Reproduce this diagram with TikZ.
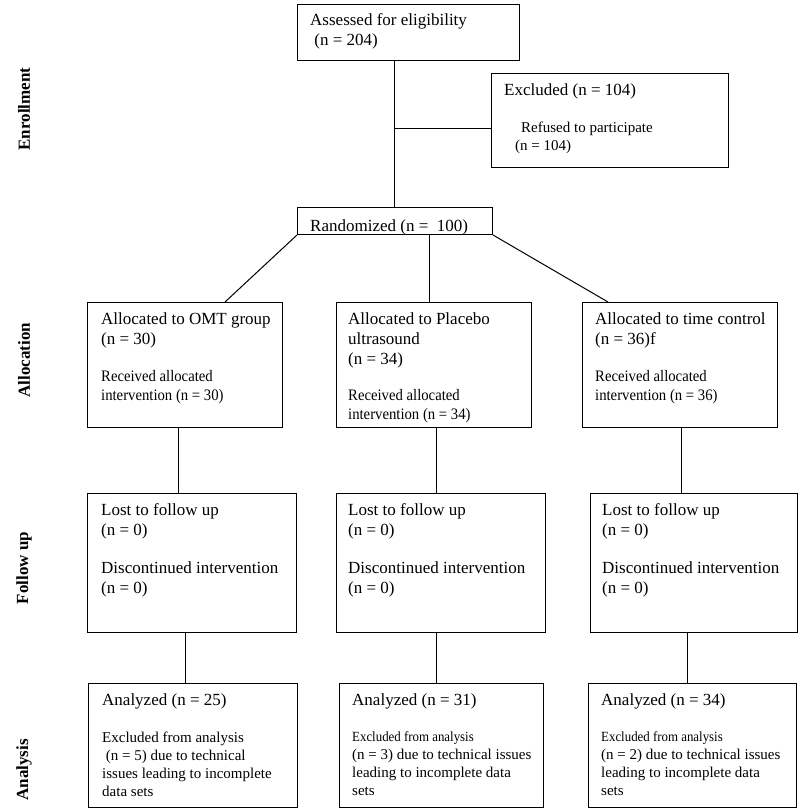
\documentclass[tikz,border=0pt]{standalone}
\usepackage{fontspec}
\setmainfont{Liberation Serif}
\newfontfamily\narrowserif[FakeStretch=0.92]{Liberation Serif}
\tikzset{
    box/.style={draw, line width=1pt, anchor=north west, inner sep=0pt},
    head/.style={anchor=north west, inner sep=0pt, align=left, font=\fontsize{17}{20}\selectfont},
    note/.style={anchor=north west, inner sep=0pt, align=left, font=\narrowserif\fontsize{16}{19}\selectfont},
    small/.style={anchor=north west, inner sep=0pt, align=left, font=\fontsize{15}{18}\selectfont},
    phase/.style={rotate=90, font=\bfseries\fontsize{17}{20}\selectfont},
    link/.style={line width=1pt},
}
\begin{document}
\begin{tikzpicture}[x=1pt,y=-1pt]
    \useasboundingbox (0,0) rectangle (800,812);
    % boxes
    \node[box, minimum width=222, minimum height=56] (assess) at (297,4) {};
    \node[box, minimum width=237, minimum height=94] (excl) at (491,73) {};
    \node[box, minimum width=195, minimum height=27] (rand) at (297,207) {};
    \node[box, minimum width=195, minimum height=125] (alloc1) at (87,302) {};
    \node[box, minimum width=195, minimum height=125] (alloc2) at (336,302) {};
    \node[box, minimum width=195, minimum height=125] (alloc3) at (582,302) {};
    \node[box, minimum width=209, minimum height=139] (fu1) at (87,493) {};
    \node[box, minimum width=209, minimum height=139] (fu2) at (336,493) {};
    \node[box, minimum width=207, minimum height=139] (fu3) at (590,493) {};
    \node[box, minimum width=209, minimum height=124] (ana1) at (88,683) {};
    \node[box, minimum width=204, minimum height=124] (ana2) at (339,683) {};
    \node[box, minimum width=208, minimum height=124] (ana3) at (588,683) {};

    % connectors
    \coordinate (trunk) at (394,0);
    \coordinate (split) at (394,128);
    \draw[link] (assess.south -| trunk) -- (rand.north -| trunk);
    \draw[link] (split) -- (split -| excl.west);
    \draw[link] (rand.south west) -- (alloc1.north -| 225,0);
    \draw[link] (rand.south -| 429,0) -- (alloc2.north -| 429,0);
    \draw[link] (rand.south east) -- (alloc3.north -| 608,0);
    \foreach \i/\xa/\xb in {1/178/185, 2/436/436, 3/681/687} {
        \draw[link] (alloc\i.south -| \xa,0) -- (fu\i.north -| \xa,0);
        \draw[link] (fu\i.south -| \xb,0) -- (ana\i.north -| \xb,0);
    }

    % texts
    \node[head] (assess-t) at (310,11) {\strut Assessed for eligibility\\\ (n = 204)};
    \node[head] (excl-t) at (504,81) {\strut Excluded (n = 104)};
    \node[small] (excl-s) at (515,119.4) {\strut\hspace{6pt}Refused to participate\\(n = 104)};
    \begin{scope}
        \clip (rand.north west) rectangle (rand.south east);
        \node[head] (rand-t) at (310,217.5) {\strut Randomized (n = \ 100)};
    \end{scope}

    \node[head] (alloc1-t) at (101,310) {\strut Allocated to OMT group\\(n = 30)};
    \node[note] (alloc1-s) at (101,367.7) {\strut Received allocated\\intervention (n = 30)};
    \node[head] (alloc2-t) at (348,310) {\strut Allocated to Placebo\\ultrasound\\(n = 34)};
    \node[note] (alloc2-s) at (348,386.7) {\strut Received allocated\\intervention (n = 34)};
    \node[head] (alloc3-t) at (595,310) {\strut Allocated to time control\\(n = 36)f};
    \node[note] (alloc3-s) at (595,367.7) {\strut Received allocated\\intervention (n = 36)};

    \foreach \i/\x in {1/101, 2/348, 3/602} {
        \node[head] (fu\i-t) at (\x,501) {\strut Lost to follow up\\(n = 0)};
        \node[head] (fu\i-s) at (\x,559) {\strut Discontinued intervention\\(n = 0)};
    }

    \node[head] (ana1-t) at (102,691) {\strut Analyzed (n = 25)};
    \node[small] (ana1-s) at (102,729.4) {\strut Excluded from analysis\\\ (n = 5) due to technical\\issues leading to incomplete\\data sets};
    \node[head] (ana2-t) at (352,691) {\strut Analyzed (n = 31)};
    \node[small] (ana2-s) at (352,728.4) {\strut{\narrowserif\fontsize{14}{18}\selectfont Excluded from analysis}\\(n = 3) due to technical issues\\leading to incomplete data\\sets};
    \node[head] (ana3-t) at (601,691) {\strut Analyzed (n = 34)};
    \node[small] (ana3-s) at (601,728.4) {\strut{\narrowserif\fontsize{14}{18}\selectfont Excluded from analysis}\\(n = 2) due to technical issues\\leading to incomplete data\\sets};

    % phase labels
    \node[phase] (enrol) at (24,109) {Enrollment};
    \node[phase] (alloc) at (24,360) {Allocation};
    \node[phase] (follow) at (24,568) {Follow up};
    \node[phase] (anal) at (24,770) {Analysis};
\end{tikzpicture}
\end{document}
